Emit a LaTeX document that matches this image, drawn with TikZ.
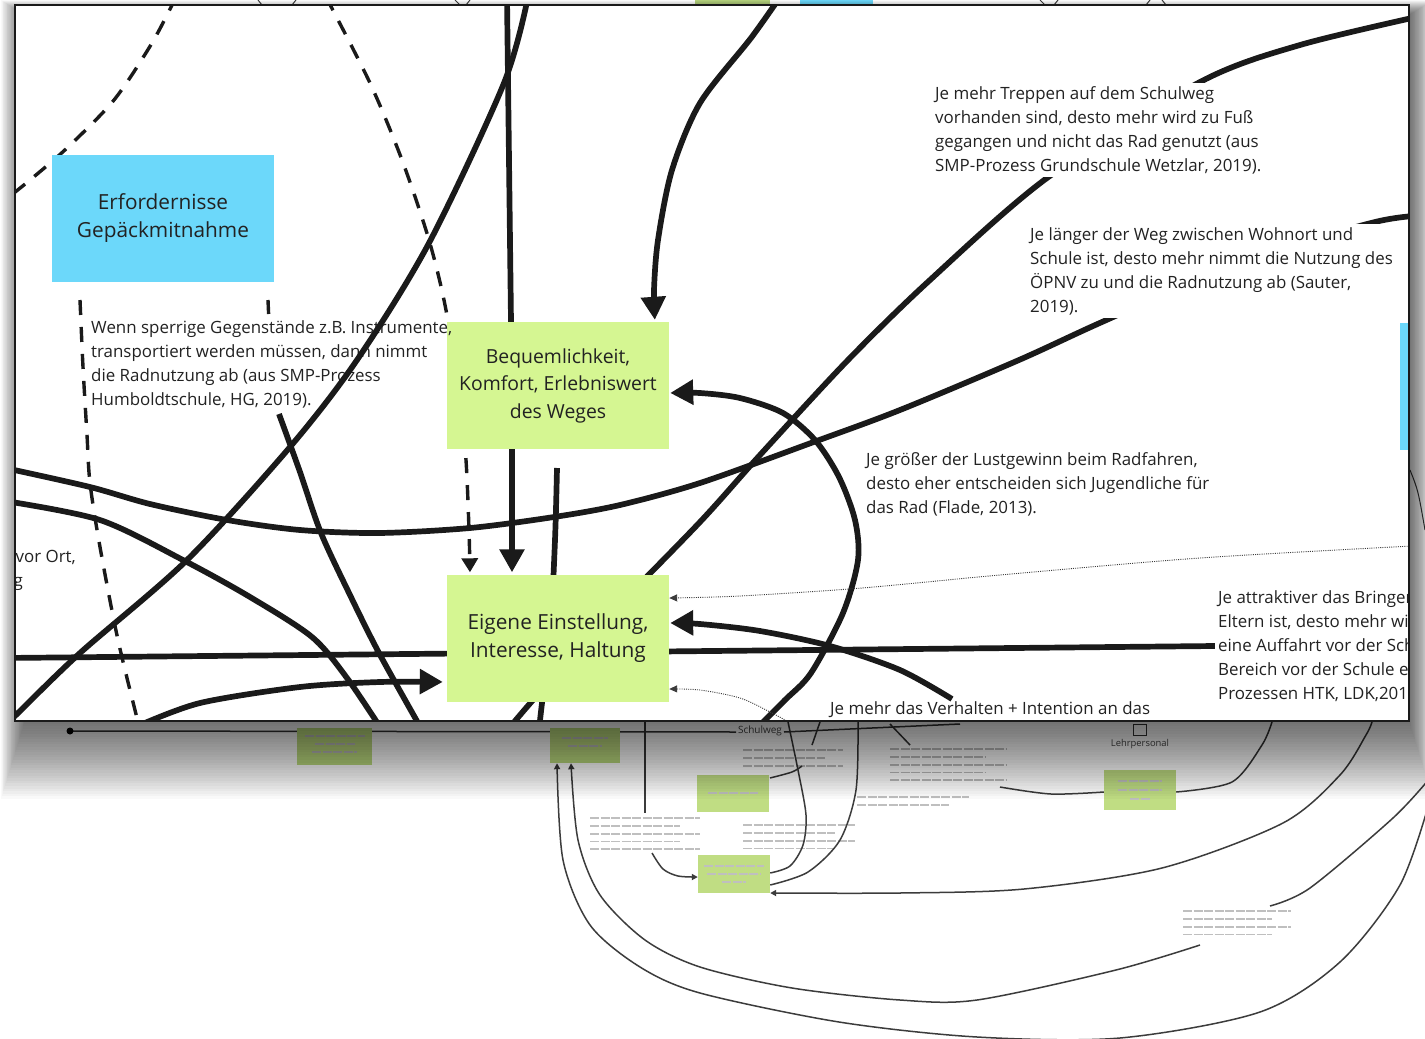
\documentclass[tikz,border=0pt]{standalone}
\usepackage{fontspec}
\setmainfont{Open Sans}
\usetikzlibrary{arrows.meta}
\pgfdeclarelayer{base}
\pgfdeclarelayer{lines}
\pgfsetlayers{base,lines,main}
\definecolor{stickgreen}{HTML}{D5F692}
\definecolor{stickblue}{HTML}{6CD8FA}
\definecolor{ink}{HTML}{1A1A1A}
\definecolor{txt}{HTML}{222222}
\newcommand\notefont{\fontsize{16.9}{24}\selectfont}
\newcommand\boxfont{\fontsize{19.4}{27.5}\selectfont}
\newcommand\bigboxfont{\fontsize{20.8}{28}\selectfont}
\newcommand\LLines[1]{\vtop{\let\\\cr\halign{##\hfil\cr #1\cr}}}
\newcommand\fakelines[4]{\foreach \k in {1,...,#4}{\draw[fake] (#1,{#2+(\k-1)*7.8}) -- ++({#3*(1-0.18*mod(\k+1,2))},0);}}
\tikzset{
  ln/.style={draw=ink, line width=5.7pt},
  dl/.style={draw=ink, line width=3.4pt, dash pattern=on 15pt off 12pt},
  dt/.style={draw=ink!85, line width=0.9pt, dash pattern=on 1pt off 1.2pt},
  bigtip/.style={-{Triangle[width=24pt,length=23pt]}},
  midtip/.style={-{Triangle[width=16pt,length=14pt]}},
  smalltip/.style={-{Triangle[width=7pt,length=8pt]}},
  bgtip/.style={-{Triangle[width=6pt,length=6pt]}},
  sticky/.style={fill=#1, minimum width=222pt, minimum height=127pt, inner sep=0pt, align=center, font=\boxfont, text=txt},
  note/.style={anchor=base west, inner sep=0pt, font=\notefont, text=txt},
  notebg/.style={note, fill=white, inner sep=3pt},
  bgline/.style={draw=ink!85, line width=1.5pt},
  bgsticky/.style={fill=stickgreen!90!black, inner sep=0pt},
  fake/.style={draw=gray!50, line width=1.8pt, dash pattern=on 9pt off 1.5pt},
  tinylabel/.style={inner sep=0pt, text=gray!60!black}
}
\begin{document}
\begin{tikzpicture}[x=1pt,y=-1pt]
\useasboundingbox (0,0) rectangle (1425,1039);

\begin{pgfonlayer}{base}
\fill[white] (0,0) rectangle (1425,1039);
% ---------- background (zoomed-out diagram) ----------
\fill[stickgreen!85!black] (695,0) rectangle (770,4);
\fill[stickblue] (800,0) rectangle (873,4);
\foreach \a/\b in {258/262,296/292,455/460,470/466,1040/1045,1058/1054,1150/1146,1162/1166}
  {\draw[bgline, line width=1pt] (\a,0) -- (\b,5);}
\draw[bgline, line width=1pt] (1410,470) .. controls (1418,490) .. (1425,530);

\draw[bgline] (70,731) -- (736,732);
\draw[bgline] (784,732) -- (960,724);
\fill[ink] (70,731) circle (3.5);
\node[tinylabel, font=\fontsize{10}{11}\selectfont] (schulweg) at (760,731) {Schulweg};
\node[tinylabel, font=\fontsize{9.4}{10}\selectfont] (lehrer) at (1140,744) {Lehrpersonal};
\draw[bgline, line width=1pt] (1133,724) rectangle (1146,735);

\node[bgsticky, minimum width=75pt, minimum height=37pt] (s1) at (334.5,746.5) {};
\node[bgsticky, minimum width=70pt, minimum height=35pt] (s2) at (585,745.5) {};
\node[bgsticky, minimum width=72pt, minimum height=37pt] (s3) at (733,793.5) {};
\node[bgsticky, minimum width=72pt, minimum height=38pt] (s4) at (734,874) {};
\node[bgsticky, minimum width=72pt, minimum height=40pt] (s5) at (1140,790) {};
\draw[fake] (305,736) -- (365,736); \draw[fake] (315,744) -- (355,744); \draw[fake] (312,752) -- (357,752);
\draw[fake] (562,738) -- (608,738); \draw[fake] (568,746) -- (602,746);
\draw[fake] (708,793) -- (758,793);
\draw[fake] (704,866) -- (764,866); \draw[fake] (707,874) -- (761,874); \draw[fake] (722,882) -- (746,882);
\draw[fake] (1118,781) -- (1162,781); \draw[fake] (1118,790) -- (1162,790); \draw[fake] (1130,799) -- (1150,799);

\fakelines{590}{818}{110}{5}
\fakelines{743}{750}{100}{3}
\fakelines{743}{825}{112}{4}
\fakelines{890}{749}{116}{5}
\fakelines{857}{797}{112}{2}
\fakelines{1183}{911}{108}{4}

\draw[bgline] (645,721) -- (645,813);
\draw[bgline, bgtip] plot[smooth] coordinates {(652,853) (663,869) (678,876) (s4.west |- 0,877)};
\draw[bgline] plot[smooth] coordinates {(s4.east |- 0,873) (790,866) (803,845) (806,815) (798,770) (788,722)};
\draw[bgline] plot[smooth] coordinates {(s4.east |- 0,885) (808,872) (840,840) (856,790) (858,722)};
\draw[bgline, bgtip] plot[smooth] coordinates {(1372,722) (1366,735) (1340,775) (1283,823) (1162,868) (1024,889) (900,893) (s4.east |- 0,893)};
\draw[bgline, bgtip] plot[smooth] coordinates {(1200,945) (1116,970) (977,1000) (900,1000) (792,988) (700,967) (645,940) (600,895) (578,840) (s2.south -| 571,0)};
\draw[bgline] plot[smooth] coordinates {(1270,906) (1310,888) (1393,818) (1430,778)};
\draw[bgline, bgtip] plot[smooth] coordinates {(1430,800) (1400,885) (1340,962) (1260,1012) (1120,1038) (977,1037) (839,1022) (700,993) (640,967) (590,925) (563,860) (s2.south -| 557,0)};
\draw[bgline] plot[smooth] coordinates {(1000,787) (1051,794) (s5.west |- 0,792)};
\draw[bgline] plot[smooth] coordinates {(s5.east |- 0,792) (1232,782) (1262,745) (1272,722)};
\draw[bgline] (820,722) -- (812,745);
\draw[bgline] plot[smooth] coordinates {(770,778) (792,772) (802,766)};
\draw[bgline] (890,724) -- (910,745);

% ---------- shadow of the magnified view ----------
\foreach \i in {1,...,30}
  {\fill[black,opacity=0.022] ({25-0.8*\i},{15-0.5*\i}) rectangle ({1409+0.8*\i},{721+2.6*\i});}
\fill[white] (15,5) rectangle (1409,721);
\end{pgfonlayer}

% ---------- magnified view: nodes ----------
\begin{scope}
\clip (15,5) rectangle (1409,721);
\node[sticky=stickblue, font=\bigboxfont] (erf) at (163,218) {Erfordernisse\\Gepäckmitnahme};
\node[sticky=stickgreen] (beq) at (558,385.5) {Bequemlichkeit,\\Komfort, Erlebniswert\\des Weges};
\node[sticky=stickgreen, font=\bigboxfont] (eig) at (558,638) {Eigene Einstellung,\\Interesse, Haltung};
\node[sticky=stickblue] (bluer) at (1511,386) {};

\node[note] (wenn) at (91,333) {\LLines{Wenn sperrige Gegenstände z.B. Instrumente,\\transportiert werden müssen, dann nimmt\\die Radnutzung ab (aus SMP-Prozess\\Humboldtschule, HG, 2019).}};
\node[notebg] (trep) at (932,99) {\LLines{Je mehr Treppen auf dem Schulweg\\vorhanden sind, desto mehr wird zu Fuß\\gegangen und nicht das Rad genutzt (aus\\SMP-Prozess Grundschule Wetzlar, 2019).}};
\node[notebg] (lang) at (1027,240) {\LLines{Je länger der Weg zwischen Wohnort und\\Schule ist, desto mehr nimmt die Nutzung des\\ÖPNV zu und die Radnutzung ab (Sauter,\\2019).}};
\node[note] (gross) at (866,465) {\LLines{Je größer der Lustgewinn beim Radfahren,\\desto eher entscheiden sich Jugendliche für\\das Rad (Flade, 2013).}};
\node[notebg] (attr) at (1215,603) {\LLines{Je attraktiver das Bringen\\Eltern ist, desto mehr wird\\eine Auffahrt vor der Schule\\Bereich vor der Schule e\\Prozessen HTK, LDK,2019}};
\node[note] (verh) at (830,714) {Je mehr das Verhalten + Intention an das};
\node[note, anchor=base east] (vorort) at (76,562) {vor Ort,};
\node[note, anchor=base east] (gline) at (23,586) {g};

% line drawn over the note text
\draw[ln] plot[smooth] coordinates {(528,-3) (504,83) (429,243) (357,360) (290,447) (187,560) (80,653) (18,713) (5,726)};
\end{scope}

% ---------- magnified view: connectors (behind nodes) ----------
\begin{pgfonlayer}{lines}
\begin{scope}
\clip (15,5) rectangle (1409,721);
\draw[dl] plot[smooth] coordinates {(176,-3) (152,43) (114,100) (67,148) (30,180) (5,200)};
\draw[dl, midtip, shorten >=2pt] plot[smooth] coordinates {(326,-3) (370,83) (402,160) (429,240) (446,310) (460,400) (466,460) (469,530) (eig.north -| 470,0)};
\draw[dl] plot[smooth] coordinates {(80,300) (83,367) (87,435) (90,483) (100,547) (118,640) (140,730)};
\draw[dl] (268,300) -- (268.6,314);
\draw[ln] (507,-3) -- (beq.north -| 511,0);
\draw[ln] plot[smooth] coordinates {(279,414) (300,472) (321,533) (350,595) (379,653) (422,730)};
\draw[ln, bigtip, shorten >=2pt] (beq.south -| 512,0) -- (eig.north -| 512,0);
\draw[ln] plot[smooth] coordinates {(557,468) (555,540) (550,640) (542,703) (539,730)};
\draw[ln] plot[smooth] coordinates {(1430,14) (1300,45) (1200,82) (1047,178) (930,280) (848,360) (760,455) (700,522) (600,625) (533,700) (505,733)};
\draw[ln] plot[smooth] coordinates {(1430,215) (1375,222) (1240,262) (1102,322) (1019,360) (900,410) (811,443) (700,483) (620,505) (554,517) (470,528) (379,533) (300,530) (227,520) (150,504) (90,487) (5,468)};
\draw[ln] plot[smooth] coordinates {(5,501) (100,520) (183,560) (250,597) (312,637) (347,678) (382,730)};
\draw[ln] (5,658) -- (attr.west |- 0,646);
\draw[ln, bigtip, shorten >=4pt] plot[smooth] coordinates {(138,726) (200,703) (300,687) (380,682) (eig.west |- 0,682)};
\draw[ln, bigtip, shorten >=1pt] plot[smooth] coordinates {(755,730) (785,700) (811,673) (843,613) (858,560) (855,520) (839,477) (815,440) (783,413) (740,398) (700,393) (beq.east |- 0,393)};
\draw[ln, bigtip, shorten >=1pt] plot[smooth] coordinates {(952,699) (900,670) (830,646) (760,631) (700,624) (eig.east |- 0,623)};
\draw[ln, bigtip, shorten >=2pt] plot[smooth] coordinates {(780,-3) (751,38) (700,103) (672,170) (658,240) (654,290) (beq.north -| 655,0)};
\draw[dt, smalltip] plot[smooth] coordinates {(1412,546) (1200,558) (1000,575) (862,588) (740,596) (eig.east |- 0,598)};
\draw[dt, smalltip] plot[smooth] coordinates {(800,728) (770,712) (740,698) (700,690) (eig.east |- 0,689)};
\end{scope}
\end{pgfonlayer}

\draw[line width=2pt, ink] (15,5) rectangle (1409,721);
\end{tikzpicture}
\end{document}
